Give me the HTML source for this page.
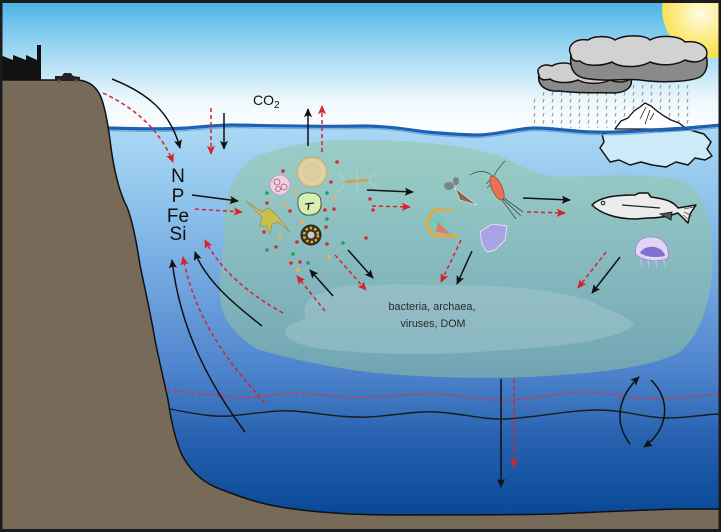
<!DOCTYPE html>
<html><head><meta charset="utf-8"><style>
html,body{margin:0;padding:0;background:#fff;}
svg{display:block;}
text{font-family:"Liberation Sans",Arial,sans-serif;}
</style></head><body>
<svg width="721" height="532" viewBox="0 0 721 532" xmlns="http://www.w3.org/2000/svg">
<defs>
<linearGradient id="sky" x1="0" y1="0" x2="0" y2="1">
<stop offset="0" stop-color="#48b2e6"/>
<stop offset="0.35" stop-color="#9ad5f1"/>
<stop offset="0.75" stop-color="#eef8fd"/>
<stop offset="1" stop-color="#ffffff"/>
</linearGradient>
<linearGradient id="sea" x1="0" y1="125" x2="0" y2="515" gradientUnits="userSpaceOnUse">
<stop offset="0" stop-color="#acd8f4"/>
<stop offset="0.2" stop-color="#8ec3ec"/>
<stop offset="0.45" stop-color="#6a9fdc"/>
<stop offset="0.65" stop-color="#4a80ca"/>
<stop offset="0.8" stop-color="#2862b0"/>
<stop offset="1" stop-color="#084896"/>
</linearGradient>
<radialGradient id="sun" cx="0.4" cy="0.55" r="0.6">
<stop offset="0" stop-color="#fffbe6"/>
<stop offset="0.5" stop-color="#fbe974"/>
<stop offset="1" stop-color="#f5d823"/>
</radialGradient>
<pattern id="rain" width="9" height="7" patternUnits="userSpaceOnUse">
<line x1="4" y1="1" x2="3" y2="4.5" stroke="#8c8c8c" stroke-width="1"/>
</pattern>
<marker id="ab" viewBox="0 0 10 10" refX="9" refY="5" markerWidth="11" markerHeight="9" orient="auto" markerUnits="userSpaceOnUse">
<path d="M0,0.5 L10,5 L0,9.5 L2,5 Z" fill="#111"/>
</marker>
<marker id="ar" viewBox="0 0 10 10" refX="9" refY="5" markerWidth="11" markerHeight="9" orient="auto" markerUnits="userSpaceOnUse">
<path d="M0,0.5 L10,5 L0,9.5 L2,5 Z" fill="#d8222a"/>
</marker>
</defs>

<!-- sky -->
<rect x="0" y="0" width="721" height="135" fill="url(#sky)"/>
<!-- sun -->
<circle cx="711" cy="9" r="49" fill="url(#sun)"/>
<!-- sea -->
<path d="M107,128 C140,129 170,129 187,128 C210,126 220,125 233,125 C290,126 330,127 360,126 C390,126 410,130 427,132 C450,134 465,135 480,135 C500,134 515,129 533,128 C555,128 575,132 593,132 C620,133 650,130 687,128 C700,127 710,126 721,125 L721,532 L107,532 Z" fill="url(#sea)"/>

<!-- green community blob -->
<path d="M225,230 C222,195 235,170 255,157 C290,143 330,139 360,140 C430,140 480,148 510,160 C525,168 535,175 560,177 C600,176 640,172 680,180 C705,190 712,220 713,260 C712,300 700,335 680,352 C650,368 600,372 560,375 C500,380 420,378 368,372 C320,366 280,356 257,349 C235,335 222,320 220,297 C219,270 224,250 225,230 Z" fill="rgb(148,198,158)" fill-opacity="0.52"/>
<!-- bacteria blob -->
<path d="M306,318 C300,305 312,294 322,294 C335,286 350,285 368,285 C400,284 430,285 460,285 C500,286 530,288 552,292 C575,296 590,300 598,305 C615,312 630,318 634,324 C630,330 615,336 598,339 C570,345 540,348 506,350 C470,353 440,354 414,354 C380,354 350,352 322,349 C300,346 288,340 285,334 C284,328 290,324 306,318 Z" fill="rgb(175,205,210)" fill-opacity="0.4"/>

<!-- iceberg underwater -->
<path d="M602,134 L612,132 L690,130 L704,134 L711,142 L707,149 L712,156 L705,160 L695,158 L688,165 L676,162 L666,167 L652,165 L641,162 L630,165 L619,160 L610,162 L605,155 L600,148 L604,142 Z" fill="#cdeaf8" stroke="#111" stroke-width="1.5" stroke-linejoin="round"/>

<!-- rain -->
<path d="M533,100 L545,86 L693,84 L693,128 L533,128 Z" fill="url(#rain)"/>

<!-- iceberg above water -->
<path d="M615,129 L621,121 L628,118 L634,111 L640,107 L645,103 L651,106 L657,111 L664,116 L671,120 L679,123 L687,129 Z" fill="#ffffff" stroke="#111" stroke-width="1.3" stroke-linejoin="round"/>
<path d="M646,107 L640,119 M650,110 L645,124 M654,113 L650,120" stroke="#222" stroke-width="0.8" fill="none"/>

<!-- water surface line -->
<path d="M107,128 C140,129 170,129 187,128 C210,126 220,125 233,125 C290,126 330,127 360,126 C390,126 410,130 427,132 C450,134 465,135 480,135 C500,134 515,129 533,128 C555,128 575,132 593,132 C620,133 650,130 687,128 C700,127 710,126 721,125" fill="none" stroke="#1d62b2" stroke-width="3.2"/>
<path d="M107,130.5 C140,131.5 170,131.5 187,130.5 C210,128.5 220,127.5 233,127.5 C290,128.5 330,129.5 360,128.5 C390,128.5 410,132.5 427,134.5 C450,136.5 465,137.5 480,137.5 C500,136.5 515,131.5 533,130.5 C555,130.5 575,134.5 593,134.5 C620,135.5 650,132.5 687,130.5 C700,129.5 710,128.5 721,127.5" fill="none" stroke="#6aa8e0" stroke-width="1.2"/>

<!-- clouds: small (behind) -->
<path d="M539,75 C537,85 545,92 560,91 C580,94 600,92 615,93 C628,92 633,86 631,78 L620,74 Z" fill="#8a8a8a" stroke="#111" stroke-width="1.5"/>
<path d="M539,75 C535,68 543,63 552,66 C558,62 570,62 574,66 C582,62 600,62 605,68 C615,67 630,70 631,78 C625,84 615,82 610,80 C600,85 585,84 578,80 C568,84 555,83 550,79 C543,81 539,79 539,75 Z" fill="#cfcfcf" stroke="#111" stroke-width="1.5"/>
<!-- clouds: big -->
<path d="M571,55 C569,70 575,78 590,79 C610,82 625,78 640,80 C660,83 690,82 700,77 C708,72 708,62 706,55 Z" fill="#8a8a8a" stroke="#111" stroke-width="1.5"/>
<path d="M571,55 C566,46 575,38 588,40 C595,35 610,36 615,40 C625,34 645,35 650,40 C660,34 680,36 685,42 C700,40 710,48 706,57 C700,64 690,62 685,60 C675,66 660,66 650,62 C640,68 620,68 612,62 C600,67 585,66 580,61 C574,62 571,59 571,55 Z" fill="#d2d2d2" stroke="#111" stroke-width="1.5"/>

<!-- land -->
<path d="M0,80 L78,80 C90,81 98,88 102,100 C106,112 108,125 110,140 C113,165 118,190 127,207 C133,222 137,245 140,265 C144,285 150,310 155,340 C160,365 165,385 168,400 C171,420 175,440 182,455 C190,470 200,480 215,487 C235,495 260,505 294,509 C330,514 368,515 400,515 C460,515 520,515 552,514 C600,512 640,510 680,509 L721,509 L721,532 L0,532 Z" fill="#786a58" stroke="#111" stroke-width="1.5"/>

<!-- factory -->
<path d="M0,80 L0,55 L13,60 L13,55 L26,60 L26,55 L37,60 L37,45 L41,45 L41,80 Z" fill="#111"/>
<!-- car -->
<path d="M55,81 L55,76 L62,76 L64,73 L71,73 L73,76 L80,77 L80,81 Z" fill="#222"/>
<circle cx="59" cy="81" r="1.8" fill="#555"/><circle cx="76" cy="81" r="1.8" fill="#555"/>

<!-- thermocline lines -->
<path d="M166,390 C200,393 225,398 253,397 C275,396 285,392 299,393 C330,395 345,398 368,397 C400,396 415,393 437,394 C465,395 485,401 506,400 C540,399 565,391 589,392 C615,393 635,400 653,399 C680,398 700,395 721,395" fill="none" stroke="#d8323a" stroke-width="1.3" stroke-dasharray="5,3"/>
<path d="M170,409 C200,415 215,417 230,416 C260,413 275,410 294,411 C320,413 340,418 368,417 C400,415 415,411 437,412 C465,414 485,420 506,419 C540,417 570,410 598,410 C625,410 645,418 667,418 C690,418 705,414 721,414" fill="none" stroke="#1a1a1a" stroke-width="1.4"/>

<!-- arrows black -->
<g fill="none" stroke="#111" stroke-width="1.5" marker-end="url(#ab)">
<path d="M112,79 C145,92 170,110 180,148"/>
<path d="M224,113 L224,149"/>
<path d="M308,146 L308,109"/>
<path d="M192,195 L238,201"/>
<path d="M367,190 L413,192"/>
<path d="M348,250 L373,278"/>
<path d="M333,296 L310,270"/>
<path d="M262,326 C235,305 205,280 195,252"/>
<path d="M245,432 C210,385 180,330 172,260"/>
<path d="M523,198 L570,200"/>
<path d="M472,251 L457,284"/>
<path d="M620,257 L592,293"/>
<path d="M501,379 L501,487"/>
<path d="M630,444 C612,420 620,395 639,377"/>
<path d="M651,380 C672,400 668,430 644,447"/>
</g>
<!-- arrows red dashed -->
<g fill="none" stroke="#d8222a" stroke-width="1.5" stroke-dasharray="4,3" marker-end="url(#ar)">
<path d="M103,93 C135,108 160,130 173,162"/>
<path d="M211,108 L211,154"/>
<path d="M322,152 L322,106"/>
<path d="M195,209 L242,212"/>
<path d="M372,206 L410,207"/>
<path d="M335,255 L366,290"/>
<path d="M325,311 L297,276"/>
<path d="M283,313 C250,295 220,270 205,240"/>
<path d="M265,403 C230,365 195,320 183,257"/>
<path d="M527,212 L565,213"/>
<path d="M461,240 L441,282"/>
<path d="M606,252 L578,288"/>
<path d="M514,379 L514,467"/>
</g>

<!-- phytoplankton dots -->
<g>
<circle cx="283" cy="171" r="1.8" fill="#d23030"/><circle cx="337" cy="162" r="1.8" fill="#d23030"/>
<circle cx="331" cy="182" r="1.8" fill="#d23030"/><circle cx="267" cy="203" r="1.8" fill="#d23030"/>
<circle cx="290" cy="211" r="1.8" fill="#d23030"/><circle cx="325" cy="210" r="1.8" fill="#d23030"/>
<circle cx="334" cy="209" r="1.8" fill="#d23030"/><circle cx="326" cy="227" r="1.8" fill="#d23030"/>
<circle cx="276" cy="247" r="1.8" fill="#d23030"/><circle cx="297" cy="242" r="1.8" fill="#d23030"/>
<circle cx="327" cy="244" r="1.8" fill="#d23030"/><circle cx="366" cy="238" r="1.8" fill="#d23030"/>
<circle cx="370" cy="199" r="1.8" fill="#d23030"/><circle cx="373" cy="210" r="1.8" fill="#d23030"/>
<circle cx="291" cy="263" r="1.8" fill="#d23030"/><circle cx="300" cy="262" r="1.8" fill="#d23030"/>
<circle cx="264" cy="232" r="1.8" fill="#d23030"/>
<circle cx="267" cy="193" r="1.8" fill="#20a050"/><circle cx="327" cy="193" r="1.8" fill="#20a050"/>
<circle cx="327" cy="219" r="1.8" fill="#20a050"/><circle cx="267" cy="250" r="1.8" fill="#20a050"/>
<circle cx="343" cy="243" r="1.8" fill="#20a050"/><circle cx="293" cy="254" r="1.8" fill="#20a050"/>
<circle cx="308" cy="263" r="1.8" fill="#20a050"/>
<circle cx="295" cy="192" r="2" fill="#e8b060"/><circle cx="285" cy="205" r="2" fill="#e8b060"/>
<circle cx="302" cy="222" r="2" fill="#e8b060"/><circle cx="335" cy="198" r="2" fill="#e8b060"/>
<circle cx="280" cy="237" r="2" fill="#e8b060"/><circle cx="329" cy="257" r="2" fill="#e8b060"/>
<circle cx="298" cy="270" r="2" fill="#e8b060"/>
</g>
<!-- big sphere -->
<circle cx="312" cy="172" r="15" fill="#dccf9f" stroke="#bba96f" stroke-width="1"/>
<circle cx="312" cy="172" r="11" fill="none" stroke="#efe6c8" stroke-width="1" stroke-dasharray="1,1.5"/>
<!-- pink -->
<circle cx="280" cy="185" r="10" fill="#ead3e2" stroke="#c898b8" stroke-width="0.8"/>
<circle cx="277" cy="182" r="3" fill="none" stroke="#c05070" stroke-width="0.8"/>
<circle cx="284" cy="187" r="3" fill="none" stroke="#c05070" stroke-width="0.8"/>
<circle cx="278" cy="189" r="2.5" fill="none" stroke="#c05070" stroke-width="0.8"/>
<!-- green cell -->
<path d="M298,200 C298,194 306,192 311,193 C317,193 321,196 321,202 C322,210 317,215 310,215 C302,216 297,210 298,200 Z" fill="#d8eeb2" stroke="#4a5a40" stroke-width="1"/>
<path d="M305,204 L314,203 M309,203 L308,210" stroke="#222" stroke-width="1.3"/>
<!-- dark wheel -->
<circle cx="311" cy="235" r="10" fill="#3a3222" stroke="#222" stroke-width="1"/>
<circle cx="311" cy="235" r="7" fill="none" stroke="#e0b030" stroke-width="2.5" stroke-dasharray="2.5,2"/>
<circle cx="311" cy="235" r="3.5" fill="#ccc"/>
<!-- yellow dino -->
<path d="M246,201 L262,212 L268,208 L276,214 L290,232 L278,222 L272,224 L270,234 L266,226 L260,226 L262,217 Z" fill="#c8c048" stroke="#9a9070" stroke-width="0.8"/>
<!-- chain diatom -->
<line x1="345" y1="182" x2="369" y2="180" stroke="#c8a458" stroke-width="3"/>
<path d="M346,181 L338,172 M346,183 L338,192 M368,180 L378,170 M368,181 L379,190 M357,181 L357,170 M357,182 L357,192" stroke="#e8eee8" stroke-width="0.5" opacity="0.7"/>

<!-- pteropod -->
<ellipse cx="449" cy="186" rx="5" ry="4" fill="#7c8488"/>
<ellipse cx="456" cy="181" rx="3" ry="4" fill="#7c8488"/>
<path d="M455,188 L477,205 L460,200 Z" fill="#8a6a50" stroke="#eee" stroke-width="0.6"/>
<!-- copepod -->
<path d="M493,176 C485,170 478,170 470,175 M494,176 C498,168 502,164 505,161 M490,180 L486,184 M491,184 L487,188" stroke="#444" stroke-width="0.7" fill="none"/>
<ellipse cx="497" cy="188" rx="5" ry="13" transform="rotate(-25 497 188)" fill="#e67454" stroke="#a84030" stroke-width="0.8"/>
<path d="M503,199 L521,216 M502,200 L516,219 M504,198 L523,212" stroke="#444" stroke-width="0.8"/>
<!-- crescent -->
<circle cx="437" cy="223" r="8" fill="#78c8b8"/>
<path d="M440,209 C424,212 423,234 438,236 L458,236" fill="none" stroke="#e8a838" stroke-width="3"/>
<path d="M440,209 C446,212 450,208 453,210" fill="none" stroke="#e8a838" stroke-width="2"/>
<path d="M438,222 L450,234 L436,232 Z" fill="#e07a6a"/>
<!-- purple jelly -->
<path d="M480,232 L492,224 L507,226 L505,240 L495,250 L487,252 L482,244 Z" fill="#aaa2e6" stroke="#eceaff" stroke-width="0.8"/>
<!-- fish -->
<path d="M592,205 C600,197 615,195 635,195 L639,193 L648,193 L651,197 C665,199 673,201 678,208 L696,205 L690,214 L688,223 L678,213 C670,216 660,218 648,218 L636,219 C615,219 600,213 592,205 Z" fill="#ececec" stroke="#111" stroke-width="1.5" stroke-linejoin="round"/>
<circle cx="603" cy="203" r="1.8" fill="none" stroke="#111" stroke-width="1"/>
<line x1="622" y1="205" x2="660" y2="208" stroke="#222" stroke-width="1.3"/>
<path d="M660,214 L672,212 L671,220 Z" fill="#555" stroke="#111" stroke-width="0.8"/>
<path d="M684,209 L694,207 M684,212 L692,216 M683,215 L689,220" stroke="#555" stroke-width="0.8"/>
<!-- moon jelly -->
<path d="M636,255 C633,242 643,236 652,237 C663,237 670,246 668,258 C660,262 645,262 636,255 Z" fill="#e2d4f4" stroke="#9a86cc" stroke-width="0.8"/>
<path d="M640,253 C642,248 650,246 654,247 C660,248 664,251 665,256 C656,258 646,257 640,253 Z" fill="#7e70cc"/>
<path d="M640,258 L642,266 M648,260 L649,268 M656,260 L657,268 M663,258 L666,267" stroke="#c8b8e8" stroke-width="1.3"/>

<!-- text -->
<text x="253" y="105" font-size="14" fill="#111">CO<tspan font-size="10" dy="3">2</tspan></text>
<g font-size="19" fill="#111" text-anchor="middle">
<text x="178" y="182">N</text>
<text x="178" y="202">P</text>
<text x="178" y="222">Fe</text>
<text x="178" y="240">Si</text>
</g>
<text x="432" y="310" font-size="11" fill="#2a2a2a" text-anchor="middle" textLength="87" lengthAdjust="spacingAndGlyphs">bacteria, archaea,</text>
<text x="433" y="327" font-size="11" fill="#2a2a2a" text-anchor="middle" textLength="65" lengthAdjust="spacingAndGlyphs">viruses, DOM</text>

<!-- frame -->
<rect x="1" y="1.5" width="719" height="529" fill="none" stroke="#1c1c1c" stroke-width="3"/>
</svg>
</body></html>
